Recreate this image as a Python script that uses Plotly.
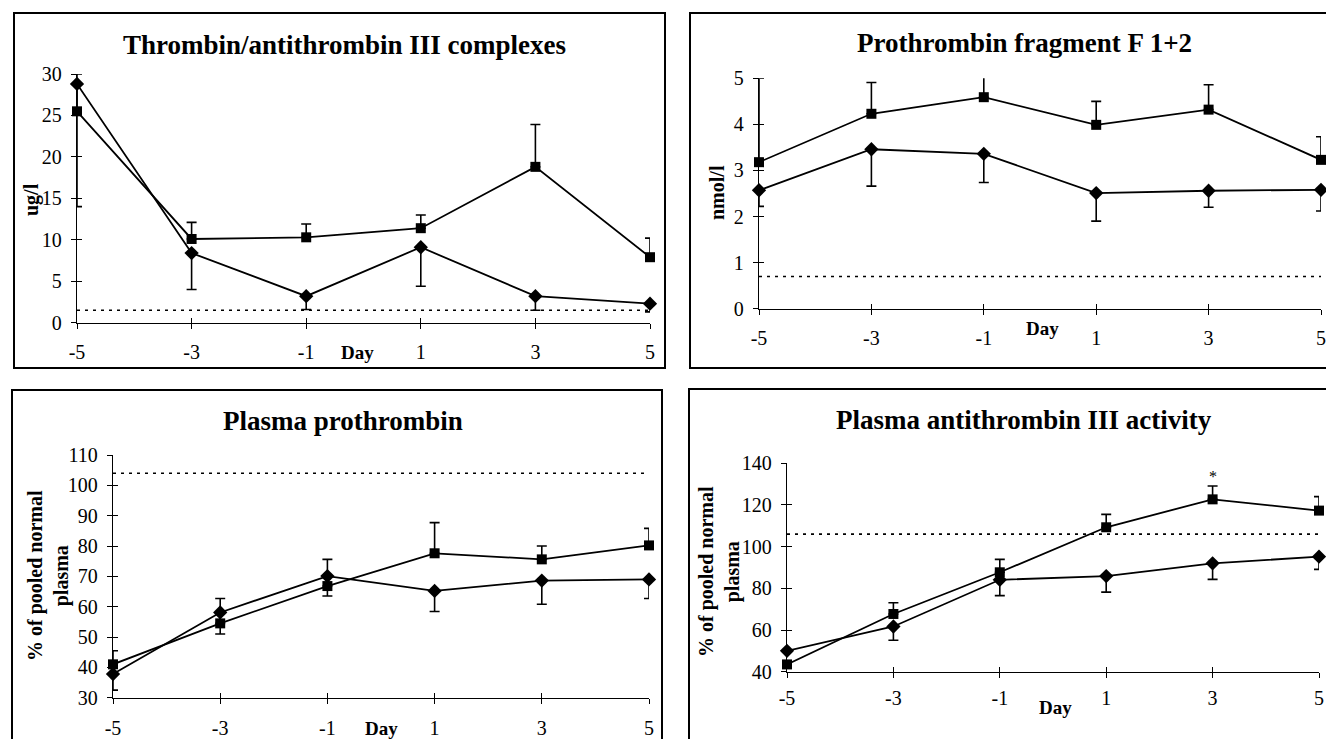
import plotly.graph_objects as go

W, H = 1326, 739

# ---------------- data ----------------
days = [-5, -3, -1, 1, 3, 5]
day_labels = ["-5", "-3", "-1", "1", "3", "5"]

# Thrombin/antithrombin III complexes (ug/l)
tat_sq = [25.5, 10.1, 10.3, 11.4, 18.8, 7.9]
tat_sq_err = [4.5, 2.0, 1.6, 1.6, 5.1, 2.3]
tat_di = [28.8, 8.4, 3.2, 9.1, 3.2, 2.3]
tat_di_err = [14.8, 4.4, 1.6, 4.7, 1.7, 1.0]
tat_ref = 1.5

# Prothrombin fragment F 1+2 (nmol/l)
f12_sq = [3.18, 4.23, 4.59, 3.99, 4.32, 3.23]
f12_sq_err = [1.82, 0.68, 0.55, 0.51, 0.54, 0.50]
f12_di = [2.57, 3.46, 3.36, 2.51, 2.56, 2.58]
f12_di_err = [0.35, 0.80, 0.62, 0.61, 0.36, 0.46]
f12_ref = 0.7

# Plasma prothrombin (% of pooled normal plasma)
pt_sq = [41.0, 54.5, 66.8, 77.6, 75.6, 80.2]
pt_sq_err = [4.5, 8.2, 8.8, 10.1, 4.4, 5.6]
pt_di = [37.8, 58.1, 70.1, 65.2, 68.6, 69.0]
pt_di_err = [5.3, 7.1, 6.6, 6.8, 7.8, 6.3]
pt_ref = 104.0

# Plasma antithrombin III activity (% of pooled normal plasma)
at_sq = [43.5, 67.7, 87.7, 109.3, 122.7, 117.3]
at_sq_err = [0.0, 5.4, 6.2, 6.2, 6.4, 6.7]
at_di = [50.0, 61.7, 84.1, 85.9, 92.0, 95.2]
at_di_err = [0.0, 6.6, 7.6, 7.7, 7.7, 6.1]
at_ref = 106.0

titles = ["Thrombin/antithrombin III complexes", "Prothrombin fragment F 1+2",
          "Plasma prothrombin", "Plasma antithrombin III activity"]
ytitles = ["ug/l", "nmol/l", "% of pooled normal<br>plasma", "% of pooled normal<br>plasma"]
yranges = [[0, 30], [0, 5], [30, 110], [40, 140]]
ydticks = [5, 1, 10, 20]
star_label = "*"

# ---------------- layout geometry (pixels) ----------------
def px(x):
    return x / W

def py(y):
    return 1 - y / H

geo = [
    dict(xd=(77, 650), yd=(322.7, 74), title=(344, 45), yt=(32, 200), day=(357, 352), xso=6, frame=(14, 13, 665, 368)),
    dict(xd=(759, 1321), yd=(308.7, 78.3), title=(1024, 43), yt=(717, 193), day=(1042, 328), xso=6, frame=(690, 13, 1340, 368)),
    dict(xd=(113, 649), yd=(697.7, 455), title=(343, 421), yt=(48, 576), day=(382, 728), xso=7, frame=(12, 390, 662, 760)),
    dict(xd=(787, 1319), yd=(671.7, 463.3), title=(1024, 420), yt=(719, 572), day=(1055, 707), xso=3, frame=(689, 389, 1340, 760)),
]

series = [
    (tat_sq, tat_sq_err, tat_di, tat_di_err, tat_ref),
    (f12_sq, f12_sq_err, f12_di, f12_di_err, f12_ref),
    (pt_sq, pt_sq_err, pt_di, pt_di_err, pt_ref),
    (at_sq, at_sq_err, at_di, at_di_err, at_ref),
]

FONT = "Liberation Serif, Times New Roman, serif"
tickfont = dict(family=FONT, size=20, color="black")

fig = go.Figure()
layout = dict(
    template="none",
    width=W, height=H, autosize=False, margin=dict(l=0, r=0, t=0, b=0, pad=0),
    paper_bgcolor="white", plot_bgcolor="rgba(0,0,0,0)",
    showlegend=False, font=dict(family=FONT, color="black"),
)
annotations = []
shapes = []

for i in range(4):
    k = i + 1
    ko = i + 5
    g = geo[i]
    sq, sqe, di, die, ref = series[i]
    xs = "" if k == 1 else str(k)
    xd = [px(g["xd"][0]), px(g["xd"][1])]
    yd = [py(g["yd"][0]), py(g["yd"][1])]

    common_x = dict(domain=xd, range=[days[0], days[-1]], tickvals=days, showgrid=False,
                    zeroline=False, ticklen=5, tickwidth=1.3, tickcolor="black",
                    fixedrange=True, automargin=False)
    common_y = dict(domain=yd, range=yranges[i], dtick=ydticks[i], tick0=yranges[i][0],
                    showgrid=False, zeroline=False, ticklen=5, tickwidth=1.3,
                    tickcolor="black", fixedrange=True, automargin=False)

    layout["xaxis" + xs] = dict(common_x, anchor="y" + xs, ticktext=day_labels, ticks="outside",
                                showline=True, linecolor="black", linewidth=1.3,
                                tickfont=tickfont, ticklabelstandoff=g["xso"])
    layout["yaxis" + xs] = dict(common_y, anchor="x" + xs, ticks="outside",
                                showline=True, linecolor="black", linewidth=1.3,
                                tickfont=tickfont, ticklabelstandoff=5)
    # overlay axes giving the inner half of the crossing tick marks
    layout["xaxis" + str(ko)] = dict(common_x, anchor="y" + str(ko), overlaying="x" + xs,
                                     ticks="inside", showticklabels=False, showline=False)
    layout["yaxis" + str(ko)] = dict(common_y, anchor="x" + str(ko), overlaying="y" + xs,
                                     ticks="inside", showticklabels=False, showline=False)
    fig.add_trace(go.Scatter(x=[None], y=[None], xaxis="x" + str(ko), yaxis="y" + str(ko),
                             mode="markers", hoverinfo="skip", showlegend=False))

    # dotted reference line
    fig.add_trace(go.Scatter(x=[days[0], days[-1]], y=[ref, ref], mode="lines",
                             line=dict(color="black", width=1.6, dash="3px,5px"),
                             xaxis="x" + xs, yaxis="y" + xs, hoverinfo="skip", cliponaxis=False))
    # diamond series (lower error bars)
    fig.add_trace(go.Scatter(
        x=days, y=di, mode="lines+markers", xaxis="x" + xs, yaxis="y" + xs, cliponaxis=False,
        line=dict(color="black", width=1.8),
        marker=dict(symbol="diamond", size=11, color="black"),
        error_y=dict(type="data", symmetric=False, array=[0] * len(days), arrayminus=die,
                     color="black", thickness=1.6, width=5)))
    # square series (upper error bars)
    fig.add_trace(go.Scatter(
        x=days, y=sq, mode="lines+markers", xaxis="x" + xs, yaxis="y" + xs, cliponaxis=False,
        line=dict(color="black", width=1.8),
        marker=dict(symbol="square", size=10, color="black"),
        error_y=dict(type="data", symmetric=False, array=sqe, arrayminus=[0] * len(days),
                     color="black", thickness=1.6, width=5)))

    # panel title
    annotations.append(dict(text="<b>" + titles[i] + "</b>", xref="paper", yref="paper",
                            x=px(g["title"][0]), y=py(g["title"][1]), showarrow=False,
                            xanchor="center", yanchor="middle",
                            font=dict(family=FONT, size=27, color="black")))
    # y axis title
    annotations.append(dict(text="<b>" + ytitles[i] + "</b>", xref="paper", yref="paper",
                            x=px(g["yt"][0]), y=py(g["yt"][1]), showarrow=False, textangle=-90,
                            xanchor="center", yanchor="middle",
                            font=dict(family=FONT, size=20, color="black")))
    # Day label
    annotations.append(dict(text="<b>Day</b>", xref="paper", yref="paper",
                            x=px(g["day"][0]), y=py(g["day"][1]), showarrow=False,
                            xanchor="center", yanchor="middle",
                            font=dict(family=FONT, size=19, color="black")))
    # panel frame
    fx0, fy0, fx1, fy1 = g["frame"]
    shapes.append(dict(type="rect", xref="paper", yref="paper",
                       x0=px(fx0), x1=px(fx1), y0=py(fy1), y1=py(fy0),
                       line=dict(color="black", width=2), fillcolor="rgba(0,0,0,0)", layer="below"))

# significance star above day 3 in AT III panel
annotations.append(dict(text=star_label, xref="x4", yref="y4", x=days[4], y=at_sq[4] + at_sq_err[4],
                        yshift=10, showarrow=False, xanchor="center", yanchor="middle",
                        font=dict(family=FONT, size=16, color="black")))

layout["annotations"] = annotations
layout["shapes"] = shapes
fig.update_layout(**layout)
fig.write_html("out.html",
               config={"displayModeBar": False, "responsive": False},
               post_script="document.body.style.margin='0';document.body.style.overflow='hidden';")
